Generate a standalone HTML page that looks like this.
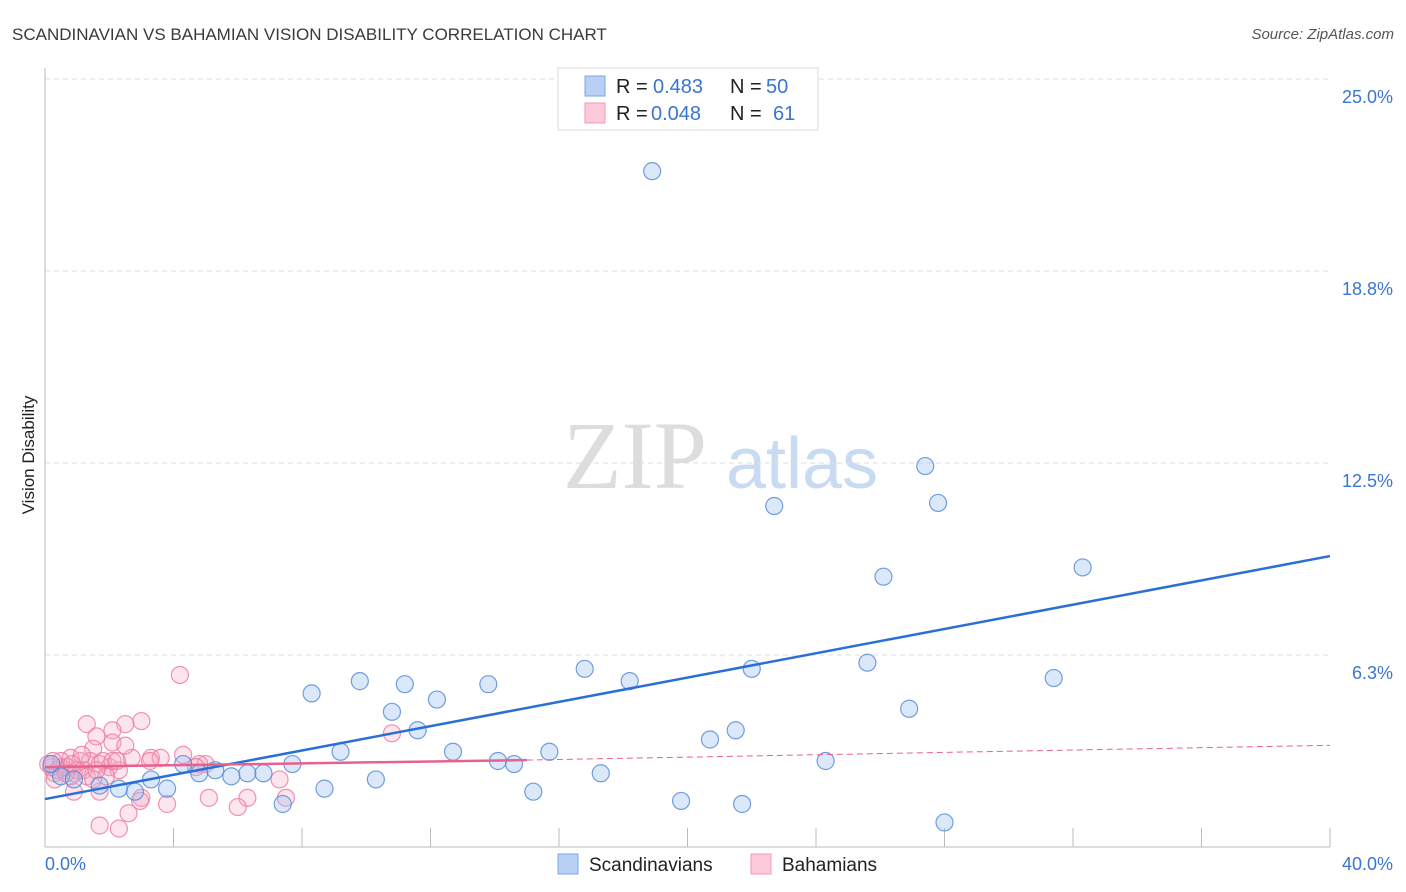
<!DOCTYPE html>
<html><head><meta charset="utf-8"><style>
body{margin:0;background:#fff;font-family:"Liberation Sans",sans-serif;}
svg{display:block}
</style></head><body>
<svg id="c" width="1406" height="892">
<text x="12" y="40" font-size="17" fill="#3a3a3a">SCANDINAVIAN VS BAHAMIAN VISION DISABILITY CORRELATION CHART</text>
<text x="1394" y="39" font-size="15" fill="#555" text-anchor="end" font-style="italic">Source: ZipAtlas.com</text>
<text x="34" y="455" font-size="17" fill="#222" text-anchor="middle" transform="rotate(-90 34 455)">Vision Disability</text>
<g><text x="635" y="488" font-size="96" fill="#ddd" font-family="Liberation Serif,serif" text-anchor="middle">ZIP</text><text x="802" y="488" font-size="72" fill="#c9daf3" text-anchor="middle">atlas</text></g>
<g id="grid"></g><g id="pts"></g><g id="lines"></g>
<g>
<rect x="558" y="68" width="260" height="62" fill="#fff" stroke="#ddd"/>
<rect x="585" y="76" width="20" height="20" fill="#b8d0f5" stroke="#7aa6e6"/>
<rect x="585" y="103" width="20" height="20" fill="#fccadb" stroke="#f09ab6"/>
<text x="616" y="93" font-size="20" fill="#222">R =</text>
<text x="653" y="93" font-size="20" fill="#3a75d0">0.483</text>
<text x="730" y="93" font-size="20" fill="#222">N =</text>
<text x="766" y="93" font-size="20" fill="#3a75d0">50</text>
<text x="616" y="120" font-size="20" fill="#222">R =</text>
<text x="651" y="120" font-size="20" fill="#3a75d0">0.048</text>
<text x="730" y="120" font-size="20" fill="#222">N =</text>
<text x="773" y="120" font-size="20" fill="#3a75d0">61</text>
</g>
<g>
<rect x="558" y="854" width="20" height="20" fill="#b8d0f5" stroke="#7aa6e6"/>
<text x="589" y="871" font-size="19" fill="#222">Scandinavians</text>
<rect x="751" y="854" width="20" height="20" fill="#fccadb" stroke="#f09ab6"/>
<text x="782" y="871" font-size="19" fill="#222">Bahamians</text>
</g>
</svg>
<script>
const yTicks=[6.25,12.5,18.75,25];
const yTickLabels=["6.3%","12.5%","18.8%","25.0%"];
const xTickLabels=["0.0%","40.0%"];
const blueX=[18.9,27.4,27.8,22.7,32.3,26.1,25.6,16.8,22.0,31.4,18.2,9.8,11.2,13.8,8.3,12.2,26.9,10.8,11.6,21.5,20.7,9.2,12.7,15.7,14.1,14.6,24.3,7.7,4.3,5.3,4.8,6.3,6.8,5.8,17.3,3.3,10.3,3.8,1.7,8.7,15.2,2.3,2.8,19.8,21.7,7.4,28.0,0.2,0.5,0.9];
const blueY=[22.0,12.4,11.2,11.1,9.1,8.8,6.0,5.8,5.8,5.5,5.4,5.4,5.3,5.3,5.0,4.8,4.5,4.4,3.8,3.8,3.5,3.1,3.1,3.1,2.8,2.7,2.8,2.7,2.7,2.5,2.4,2.4,2.4,2.3,2.4,2.2,2.2,1.9,2.0,1.9,1.8,1.9,1.8,1.5,1.4,1.4,0.8,2.7,2.3,2.2];
const pinkX=[4.2,1.3,2.5,3.0,2.1,1.6,2.1,1.5,2.7,3.3,3.6,4.3,5.0,4.8,10.8,0.8,1.1,1.4,1.7,2.0,0.5,0.6,0.3,0.2,0.9,1.2,2.3,7.3,6.3,5.1,3.8,3.0,2.6,1.7,2.3,7.5,6.0,0.9,1.7,0.8,0.3,0.1,0.5,0.7,1.0,1.15,1.8,2.1,1.3,1.9,1.5,2.96,0.4,0.25,0.65,0.84,1.6,2.5,2.24,4.7,3.27];
const pinkY=[5.6,4.0,4.0,4.1,3.8,3.6,3.4,3.2,2.9,2.9,2.9,3.0,2.7,2.7,3.7,2.9,2.8,2.8,2.7,2.6,2.6,2.5,2.4,2.6,2.4,2.5,2.5,2.2,1.6,1.6,1.4,1.6,1.1,0.7,0.6,1.6,1.3,1.8,1.8,2.3,2.2,2.7,2.8,2.6,2.5,3.0,2.8,2.8,2.3,2.3,2.2,1.5,2.5,2.8,2.4,2.7,2.5,3.3,2.8,2.6,2.8];
const blueTrendX=[0,40];const blueTrendY=[1.56,9.47];
const pinkTrendX=[0,15,40];const pinkTrendY=[2.60,2.83,3.31];
const NS="http://www.w3.org/2000/svg";
const sx=v=>45+v*32.125, sy=v=>847-v*30.72;
function mk(t,a,p){const e=document.createElementNS(NS,t);for(const k in a)e.setAttribute(k,a[k]);p.appendChild(e);return e;}
const grid=document.getElementById('grid');
yTicks.forEach((v,i)=>{
 const l=mk('line',{x1:45,x2:1330,y1:sy(v),y2:sy(v),stroke:'#ddd','stroke-dasharray':'5 4'},grid);
 
 
 const t=mk('text',{x:1393,y:sy(v)+24,'font-size':18,fill:'#3a75d0','text-anchor':'end'},grid);
 t.textContent=yTickLabels[i];
 
 
});
const ax=mk('line',{x1:45,x2:45,y1:68,y2:847,stroke:'#bbb'},grid);


const bx=mk('line',{x1:45,x2:1330,y1:847,y2:847,stroke:'#bbb'},grid);


for(let i=1;i<=10;i++){const tk=mk('line',{x1:sx(i*4),x2:sx(i*4),y1:828,y2:847,stroke:'#bbb'},grid);
 
 }
[[0,'start',45],[40,'end',1393]].forEach((d,i)=>{const t=mk('text',{x:d[2],y:870,'font-size':18,fill:'#3a75d0','text-anchor':d[1]},grid);t.textContent=xTickLabels[i];
 
 });
const pts=document.getElementById('pts');
pinkX.forEach((x,i)=>{const c=mk('circle',{cx:sx(x),cy:sy(pinkY[i]),r:8.5,fill:'rgba(248,170,195,0.3)',stroke:'rgba(236,120,160,0.8)','stroke-width':1.2},pts);
 
 });
blueX.forEach((x,i)=>{const c=mk('circle',{cx:sx(x),cy:sy(blueY[i]),r:8.5,fill:'rgba(160,195,240,0.38)',stroke:'rgba(80,135,215,0.8)','stroke-width':1.2},pts);
 
 });
const L=document.getElementById('lines');
const bl=mk('line',{x1:sx(blueTrendX[0]),y1:sy(blueTrendY[0]),x2:sx(blueTrendX[1]),y2:sy(blueTrendY[1]),stroke:'#2a6fd6','stroke-width':2.5},L);


const pl=mk('line',{x1:sx(pinkTrendX[0]),y1:sy(pinkTrendY[0]),x2:sx(pinkTrendX[1]),y2:sy(pinkTrendY[1]),stroke:'#e8608e','stroke-width':2.5},L);


const pd=mk('line',{x1:sx(pinkTrendX[1]),y1:sy(pinkTrendY[1]),x2:sx(pinkTrendX[2]),y2:sy(pinkTrendY[2]),stroke:'#e8608e','stroke-width':1,'stroke-dasharray':'6 4'},L);


</script>
</body></html>
